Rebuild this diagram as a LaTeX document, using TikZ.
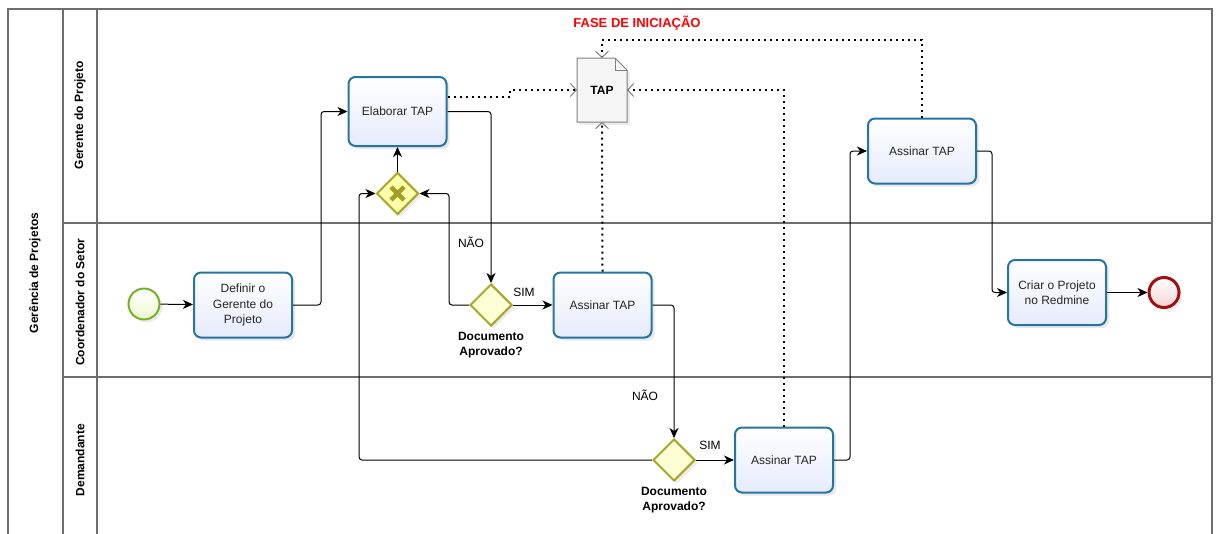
\documentclass[tikz,border=0pt]{standalone}
\usepackage{fontspec}
\setmainfont{Liberation Sans}
\usetikzlibrary{arrows.meta,shapes.geometric,shadows,positioning}
\definecolor{taskline}{RGB}{36,116,166}
\definecolor{taskfill}{RGB}{230,235,252}
\definecolor{gateline}{RGB}{166,166,40}
\definecolor{gatefill}{RGB}{255,255,214}
\definecolor{xmark}{RGB}{158,158,40}
\definecolor{startline}{RGB}{112,178,40}
\definecolor{startfill}{RGB}{236,248,210}
\definecolor{endline}{RGB}{160,16,16}
\definecolor{endfill}{RGB}{246,212,212}
\definecolor{poolline}{RGB}{110,110,110}
\begin{document}
\begin{tikzpicture}[
  x=1pt, y=-1pt,
  font=\fontsize{12}{15.5}\selectfont,
  pool/.style={draw=poolline, line width=1.2pt},
  lanelabel/.style={rotate=90, font=\fontsize{12}{14}\selectfont\bfseries},
  task/.style={draw=taskline, line width=2pt, rounded corners=7pt,
    top color=white, bottom color=taskfill, minimum width=98pt,
    minimum height=65pt, align=center, text=black!85,
    drop shadow={shadow xshift=3pt, shadow yshift=-3pt, opacity=.18}},
  gate/.style={diamond, draw=gateline, line width=2pt, fill=gatefill,
    minimum width=42pt, minimum height=42pt, inner sep=0pt,
    drop shadow={shadow xshift=3pt, shadow yshift=-3pt, opacity=.15}},
  xgate/.style={gate, fill=gatefill!80!yellow,
    path picture={\draw[xmark, line width=4.5pt]
      (path picture bounding box.center) +(-6.5pt,-6.5pt) -- +(6.5pt,6.5pt)
      (path picture bounding box.center) +(-6.5pt,6.5pt) -- +(6.5pt,-6.5pt);}},
  gatelabel/.style={font=\fontsize{12}{15.5}\selectfont\bfseries, align=center, inner sep=1pt},
  startev/.style={circle, draw=startline, line width=2pt, inner sep=0pt,
    minimum size=31pt, top color=white, bottom color=startfill,
    drop shadow={shadow xshift=3pt, shadow yshift=-3pt, opacity=.15}},
  endev/.style={circle, draw=endline, line width=3pt, inner sep=0pt,
    minimum size=30pt, top color=white, bottom color=endfill,
    drop shadow={shadow xshift=3pt, shadow yshift=-3pt, opacity=.15}},
  flow/.style={draw=black, line width=1pt, rounded corners=3pt,
    -{Stealth[length=10pt, width=9pt, inset=3pt]}},
  assoc/.style={line width=2pt, dash pattern=on 2pt off 4pt,
    -{Straight Barb[length=6pt, width=13pt, line width=1pt, color=gray]}},
  docshape/.style={draw=gray, line width=1pt, fill=gray!8,
    drop shadow={shadow xshift=3pt, shadow yshift=-3pt, opacity=.15}},
]
\useasboundingbox (0,0) rectangle (1217,533);

\draw[pool] (8,545) -- (8,9) -- (1212,9) -- (1212,545);
\draw[pool] (63,9) -- (63,545) (97,9) -- (97,545);
\draw[pool] (63,223) -- (1212,223) (63,377) -- (1212,377);

\node[lanelabel] (lpool) at (35,273) {Gerência de Projetos};
\node[lanelabel] (lgerente) at (80,115) {Gerente do Projeto};
\node[lanelabel] (lcoord) at (80,302) {Coordenador do Setor};
\node[lanelabel] (ldem) at (80,460) {Demandante};

\node[font=\fontsize{13}{15}\selectfont\bfseries, text=red] (fase) at (637,23) {FASE DE INICIAÇÃO};

\coordinate (tapc) at (602,90);
\filldraw[docshape] (tapc) ++(-25,-32) -- ++(38,0) -- ++(12,12) -- ++(0,52) -- ++(-50,0) -- cycle;
\draw[draw=gray, line width=1pt] (tapc) ++(13,-32) -- ++(0,12) -- ++(12,0);
\node[minimum width=50pt, minimum height=64pt, outer sep=0pt,
  font=\fontsize{12}{14}\selectfont\bfseries] (tap) at (tapc) {TAP};

\node[startev] (inicio) at (144,304) {};
\node[task] (definir) at (243,305) {Definir o\\Gerente do\\Projeto};
\node[task, minimum height=69pt] (elaborar) at (397.5,111.5) {Elaborar TAP};
\node[xgate] (gx) at (397.5,193.5) {};
\node[gate] (gw1) at (491,305) {};
\node[gatelabel, below=4pt of gw1] (gw1lbl) {Documento\\Aprovado?};
\node[task] (assinarcoord) at (602.5,305) {Assinar TAP};
\node[gate] (gw2) at (674,460) {};
\node[gatelabel, below=4pt of gw2] (gw2lbl) {Documento\\Aprovado?};
\node[task] (assinardem) at (784,460) {Assinar TAP};
\node[task, minimum width=108pt] (assinarger) at (922,151) {Assinar TAP};
\node[task] (criar) at (1057,292.5) {Criar o Projeto\\no Redmine};
\node[endev] (fim) at (1164,292.5) {};

\node (nao1) at (471,242) {NÃO};
\node (sim1) at (524,292) {SIM};
\node (nao2) at (645,395) {NÃO};
\node (sim2) at (710,445) {SIM};

\draw[flow] (inicio) -- (definir);
\draw[flow] (definir.east) -- ++(28,0) |- (elaborar.west);
\draw[flow] (elaborar.east) -| (gw1.north);
\draw[flow] (gw1.west) -- ++(-20,0) |- (gx.east);
\draw[flow] (gw1) -- (assinarcoord);
\draw[flow] (assinarcoord.east) -| (gw2.north);
\draw[flow] (gw2) -- (assinardem);
\draw[flow] (gw2.west) -- ++(-293,0) |- (gx.west);
\draw[flow] (gx) -- (elaborar);
\draw[flow] (assinardem.east) -- ++(16,0) |- (assinarger.west);
\draw[flow] (assinarger.east) -- ++(15,0) |- (criar.west);
\draw[flow] (criar) -- (fim);

\draw[assoc] ([yshift=15pt]elaborar.east) -- ++(62,0) |- (tap.west);
\draw[assoc] (assinarcoord.north) -- (tap.south);
\draw[assoc] (assinardem.north) |- (tap.east);
\draw[assoc] (assinarger.north) -- ++(0,-78) -| (tap.north);
\end{tikzpicture}
\end{document}
